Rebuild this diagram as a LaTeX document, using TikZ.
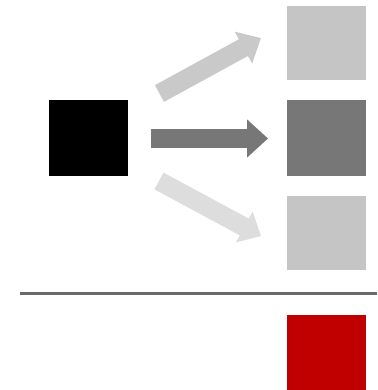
\documentclass[tikz,border=0pt]{standalone}
\usetikzlibrary{arrows.meta}
\definecolor{lightsq}{HTML}{C4C5C4}
\definecolor{midsq}{HTML}{777777}
\definecolor{redsq}{HTML}{C00000}
\definecolor{toparr}{HTML}{C8C9C8}
\definecolor{botarr}{HTML}{DDDDDD}
\definecolor{rule}{HTML}{6A6A6A}
\begin{document}
\begin{tikzpicture}[x=1pt,y=-1pt,
  sq/.style={rectangle,inner sep=0pt,minimum width=79pt,minimum height=76pt,draw=none,anchor=north west},
  bigarrow/.style={line width=19pt,-{Triangle[width=37pt,length=21pt]}}]
\useasboundingbox[fill=white] (0,0) rectangle (377,390);
\node[sq,fill=black] (src) at (49,100) {};
\node[sq,fill=lightsq,minimum height=74pt] (t1) at (287,6) {};
\node[sq,fill=midsq] (t2) at (287,100) {};
\node[sq,fill=lightsq,minimum height=74pt] (t3) at (287,196) {};
\node[sq,fill=redsq,minimum height=76pt] (t4) at (287,315) {};
\coordinate (a1s) at (159.5,93.5);
\coordinate (a1e) at (261,38);
\coordinate (a2s) at (151,138.5);
\coordinate (a2e) at (268,138.5);
\coordinate (a3s) at (159,181);
\coordinate (a3e) at (261,236);
\draw[bigarrow,draw=toparr,fill=toparr,-{Triangle[width=35pt,length=20pt]}] (a1s) -- (a1e);
\draw[bigarrow,draw=midsq,fill=midsq] (a2s) -- (a2e);
\draw[bigarrow,draw=botarr,fill=botarr,-{Triangle[width=34pt,length=19pt]}] (a3s) -- (a3e);
\coordinate (l1) at (20,293.5);
\coordinate (l2) at (377,293.5);
\draw[rule,line width=3pt] (l1) -- (l2);
\end{tikzpicture}
\end{document}
